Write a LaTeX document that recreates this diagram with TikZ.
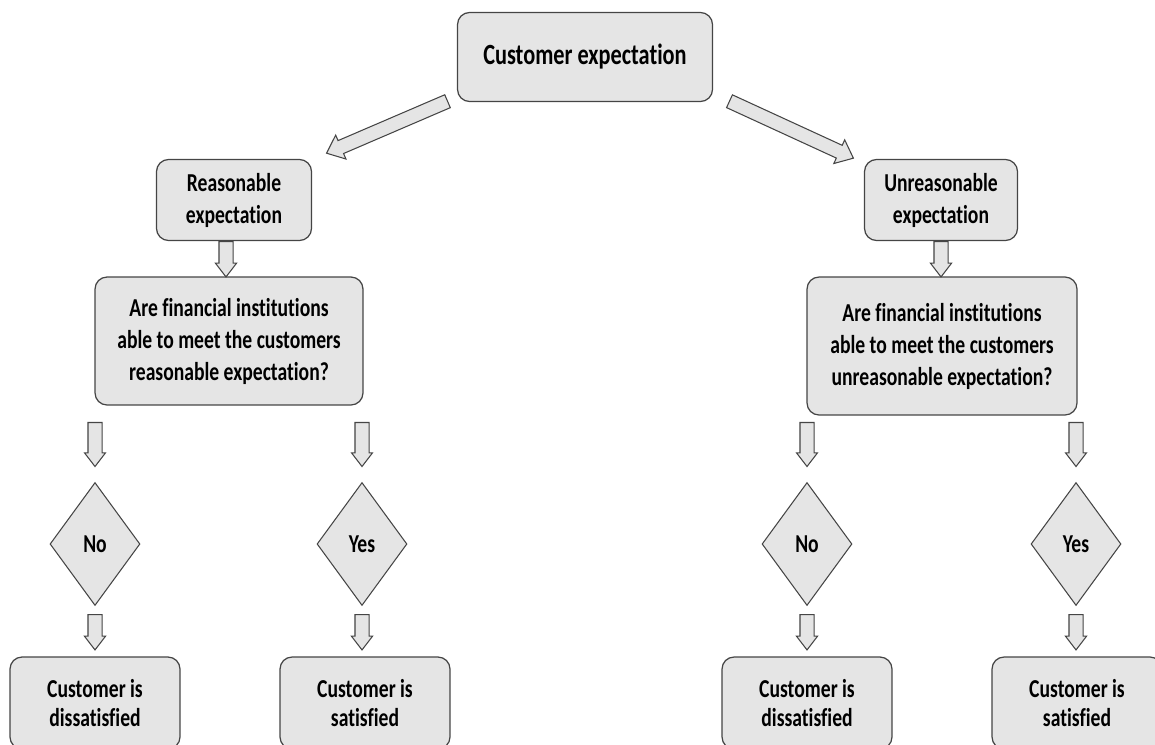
\documentclass[tikz,border=0pt]{standalone}
\usepackage{fontspec}
\setmainfont{Carlito}[FakeStretch=0.76, Ligatures=NoCommon]
\usepackage{tikz}
\usetikzlibrary{shapes.geometric,shapes.arrows,calc}
\definecolor{boxgray}{rgb}{0.9,0.9,0.9}
\definecolor{edgegray}{rgb}{0.27,0.27,0.27}

\tikzset{
  box/.style={draw=edgegray, fill=boxgray, line width=0.7pt, rounded corners=0.24cm,
    align=center, inner sep=0pt},
  choice/.style={diamond, draw=edgegray, fill=boxgray, line width=0.6pt, inner sep=0pt,
    minimum width=1.8cm, minimum height=2.46cm},
  arrowbody/.style={single arrow, draw=edgegray, fill=boxgray, line width=0.6pt,
    inner xsep=0pt, inner ysep=0.13cm, minimum width=0pt,
    single arrow head extend=0.07cm, single arrow tip angle=75},
  fat/.style={to path={let \p1=(\tikztostart), \p2=(\tikztotarget),
    \n1={atan2(\y2-\y1,\x2-\x1)}, \n2={veclen(\x2-\x1,\y2-\y1)} in
    node[arrowbody, #1, rotate=\n1, minimum height=\n2, anchor=tail] at (\p1) {}}},
  fat/.default={}
}

\begin{document}
\begin{tikzpicture}[x=0.02cm, y=-0.02cm,
  every node/.style={font=\bfseries\fontsize{14.7}{18.2}\selectfont, text=black}]
  \useasboundingbox (0,0) rectangle (1155,744);

  % top and the two kinds of expectation
  \node[box, minimum width=5.1cm, minimum height=1.78cm, font=\bfseries\fontsize{16.7}{20}\selectfont]
    (top) at (585,57) {Customer expectation};
  \node[box, minimum width=3.1cm, minimum height=1.62cm] (reas) at (234,200) {Reasonable\\expectation};
  \node[box, minimum width=3.06cm, minimum height=1.62cm] (unreas) at (941,200) {Unreasonable\\expectation};

  % questions
  \node[box, minimum width=5.36cm, minimum height=2.56cm] (askreas) at (229,341)
    {Are financial institutions\\able to meet the customers\\reasonable expectation?};
  \node[box, minimum width=5.4cm, minimum height=2.76cm] (askunreas) at (942,346)
    {Are financial institutions\\able to meet the customers\\unreasonable expectation?};

  % answers
  \node[choice] (noL) at (95,544) {No};
  \node[choice] (yesL) at (362,544) {Yes};
  \node[choice] (noR) at (807,544) {No};
  \node[choice] (yesR) at (1076,544) {Yes};

  % outcomes
  \tikzset{endbox/.style={box, minimum width=3.4cm, minimum height=1.84cm,
    font=\bfseries\fontsize{14.7}{16}\selectfont}}
  \node[endbox] (dissL) at (95,703) {Customer is\\dissatisfied};
  \node[endbox] (satL) at (365,703) {Customer is\\satisfied};
  \node[endbox] (dissR) at (807,703) {Customer is\\dissatisfied};
  \node[endbox] (satR) at (1077,703) {Customer is\\satisfied};

  % block arrows
  \coordinate (lt) at (448,101);
  \coordinate (lh) at (327,153);
  \coordinate (rt) at (729,101);
  \coordinate (rh) at (853,158);
  \path (lt) to[fat={single arrow head extend=0.12cm, single arrow tip angle=80}] (lh);
  \path (rt) to[fat={single arrow head extend=0.12cm, single arrow tip angle=80}] (rh);

  \path ($(reas.south)+(-8,0)$) to[fat] ($(reas.south |- askreas.north)+(-8,0)$);
  \path (unreas.south) to[fat] (unreas.south |- askunreas.north);

  \foreach \d/\b in {noL/dissL, yesL/satL, noR/dissR, yesR/satR} {
    \path ($(\d.north)+(0,-60)$) to[fat] ($(\d.north)+(0,-16)$);
    \path ($(\d.south)+(0,8)$) to[fat] ($(\d.south |- \b.north)+(0,-7)$);
  }
\end{tikzpicture}
\end{document}
